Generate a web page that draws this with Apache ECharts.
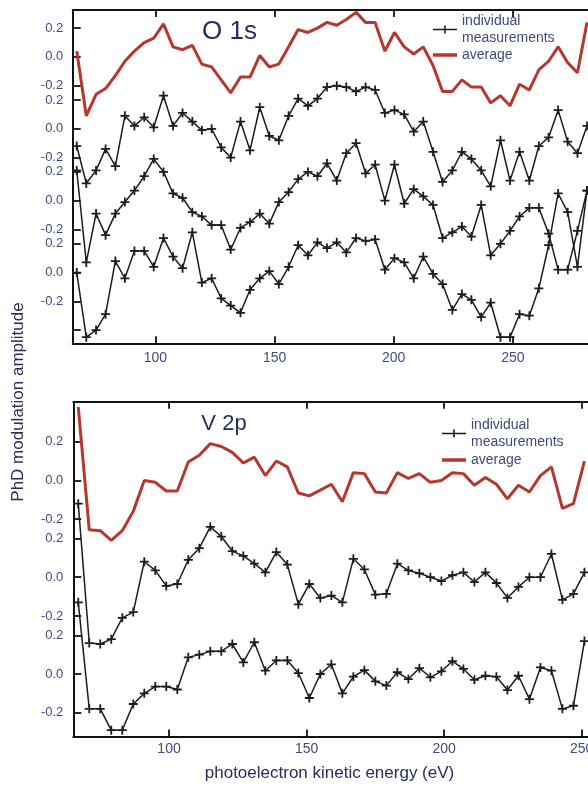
<!DOCTYPE html>
<html>
<head>
<meta charset="utf-8">
<script src="https://cdn.jsdelivr.net/npm/echarts@6/dist/echarts.min.js"></script>
<style>
html,body{margin:0;padding:0;background:#ffffff;}
#chart{width:588px;height:788px;}
</style>
</head>
<body>
<div id="chart"></div>
<script>
// ---------------- data ----------------
const o1sEnergy = [67.0, 71.0, 75.1, 79.1, 83.2, 87.2, 91.2, 95.3, 99.3, 103.4,
  107.4, 111.4, 115.5, 119.5, 123.6, 127.6, 131.6, 135.7, 139.7, 143.8,
  147.8, 151.8, 155.9, 159.9, 164.0, 168.0, 172.0, 176.1, 180.1, 184.2,
  188.2, 192.2, 196.3, 200.3, 204.4, 208.4, 212.4, 216.5, 220.5, 224.6,
  228.6, 232.6, 236.7, 240.7, 244.8, 248.8, 252.8, 256.9, 260.9, 265.0,
  269.0, 273.0, 277.1, 281.1];
const o1sAverage = [0.04, -0.41, -0.26, -0.22, -0.13, -0.03, 0.04, 0.10, 0.13, 0.23,
  0.07, 0.05, 0.08, -0.05, -0.07, -0.16, -0.25, -0.14, -0.14, 0.01,
  -0.07, -0.05, 0.07, 0.19, 0.17, 0.20, 0.24, 0.22, 0.26, 0.31,
  0.24, 0.24, 0.04, 0.17, 0.07, 0.02, 0.07, -0.06, -0.24, -0.24,
  -0.16, -0.21, -0.21, -0.32, -0.27, -0.34, -0.19, -0.23, -0.09, -0.03,
  0.07, -0.04, -0.11, 0.24];
const o1sScanA = [-0.12, -0.38, -0.29, -0.14, -0.26, 0.09, 0.02, 0.08, 0.01, 0.23,
  0.02, 0.11, 0.05, -0.01, 0.00, -0.13, -0.20, 0.05, -0.15, 0.15,
  -0.05, -0.08, 0.09, 0.21, 0.16, 0.21, 0.29, 0.30, 0.29, 0.26,
  0.29, 0.27, 0.11, 0.13, 0.10, -0.02, 0.05, -0.16, -0.37, -0.29,
  -0.16, -0.21, -0.29, -0.40, -0.08, -0.36, -0.16, -0.36, -0.12, -0.06,
  0.13, -0.09, -0.17, 0.02];
const o1sScanB = [0.21, -0.43, -0.09, -0.24, -0.09, -0.01, 0.07, 0.17, 0.29, 0.20,
  0.05, 0.02, -0.08, -0.11, -0.17, -0.17, -0.34, -0.19, -0.15, -0.09,
  -0.16, -0.01, 0.06, 0.15, 0.20, 0.17, 0.26, 0.14, 0.33, 0.40,
  0.19, 0.25, 0.00, 0.25, -0.02, 0.08, 0.03, -0.03, -0.26, -0.22,
  -0.18, -0.25, -0.03, -0.38, -0.30, -0.21, -0.11, -0.05, -0.05, -0.23,
  -0.48, -0.48, -0.21, 0.07];
const o1sScanC = [0.00, -0.45, -0.40, -0.29, 0.08, -0.04, 0.15, 0.15, 0.04, 0.24,
  0.11, 0.03, 0.28, -0.07, -0.04, -0.18, -0.23, -0.28, -0.12, -0.04,
  0.01, -0.08, 0.04, 0.19, 0.12, 0.21, 0.17, 0.21, 0.14, 0.24,
  0.22, 0.23, 0.02, 0.10, 0.07, -0.04, 0.11, -0.01, -0.08, -0.26,
  -0.15, -0.19, -0.31, -0.21, -0.45, -0.45, -0.29, -0.30, -0.11, 0.19,
  0.55, 0.42, 0.04, 0.57];

const v2pEnergy = [67, 71, 75, 79, 83, 87, 91, 95, 99, 103,
  107, 111, 115, 119, 123, 127, 131, 135, 139, 143,
  147, 151, 155, 159, 163, 167, 171, 175, 179, 183,
  187, 191, 195, 199, 203, 207, 211, 215, 219, 223,
  227, 231, 235, 239, 243, 247, 251];
const v2pAverage = [0.38, -0.255, -0.26, -0.31, -0.26, -0.16, 0.00, -0.01, -0.055, -0.055,
  0.095, 0.13, 0.19, 0.175, 0.145, 0.09, 0.12, 0.025, 0.10, 0.07,
  -0.065, -0.08, -0.05, -0.02, -0.11, 0.04, 0.035, -0.06, -0.065, 0.04,
  0.01, 0.035, -0.01, 0.00, 0.04, 0.035, -0.025, 0.015, -0.02, -0.095,
  -0.025, -0.06, 0.025, 0.07, -0.145, -0.12, 0.10];
const v2pScanA = [0.38, -0.34, -0.345, -0.32, -0.21, -0.18, 0.08, 0.035, -0.045, -0.035,
  0.09, 0.15, 0.26, 0.21, 0.135, 0.11, 0.07, 0.025, 0.13, 0.065,
  -0.14, -0.035, -0.107, -0.095, -0.13, 0.095, 0.04, -0.09, -0.086, 0.07,
  0.035, 0.02, 0.00, -0.02, 0.01, 0.025, -0.025, 0.025, -0.03, -0.107,
  -0.05, 0.00, 0.00, 0.12, -0.117, -0.086, 0.025];
const v2pScanB = [0.37, -0.18, -0.18, -0.29, -0.29, -0.155, -0.10, -0.065, -0.065, -0.08,
  0.086, 0.10, 0.117, 0.117, 0.155, 0.06, 0.164, 0.017, 0.07, 0.07,
  0.005, -0.124, 0.0, 0.05, -0.10, -0.014, 0.02, -0.038, -0.06, 0.009,
  -0.026, 0.03, -0.017, 0.014, 0.066, 0.026, -0.03, -0.009, -0.014, -0.083,
  -0.009, -0.13, 0.034, 0.017, -0.18, -0.164, 0.17];

const xTickValues = [100, 150, 200, 250];
const yTickValues = [0.2, 0.0, -0.2];
const yTickValuesLowest = [0.2, 0.0, -0.2, -0.4];
const nameAverage = 'average';
const nameIndividual = 'individual\nmeasurements';

// ---------------- styling / layout ----------------
const FONT = '"Liberation Sans", Arial, Helvetica, sans-serif';
const AXIS = '#121212';
const LABEL = '#404a80';
const TITLE = '#262d5c';
const RED = '#b5372f';
const INK = '#1c1c1c';
const PLUS = 'path://M4,0H6V4H10V6H6V10H4V6H0V4H4Z';

const panels = [
  { energy: o1sEnergy, traces: [o1sAverage, o1sScanA, o1sScanB, o1sScanC],
    grid: { left: 72.7, top: 10, width: 535.5, height: 333.3 },
    xMin: 65.3, xMax: 290, yMin: -1.9923, yMax: 0.3263, step: 0.5 },
  { energy: v2pEnergy, traces: [v2pAverage, v2pScanA, v2pScanB],
    grid: { left: 73.3, top: 401.7, width: 535.9, height: 334.8 },
    xMin: 65.2, xMax: 260, yMin: -1.3228, yMax: 0.4065, step: 0.5 }
];

const grids = [], xAxes = [], yAxes = [], series = [];
panels.forEach((p, pi) => {
  grids.push(Object.assign({ containLabel: false, outerBoundsMode: 'none' }, p.grid));
  const xBase = {
    gridIndex: pi, type: 'value', min: p.xMin, max: p.xMax,
    splitLine: { show: false },
    axisLine: { show: true, onZero: false, lineStyle: { color: AXIS, width: 2 } },
    axisTick: { show: true, inside: true, length: 7, customValues: xTickValues,
      lineStyle: { color: AXIS, width: 1.8 } }
  };
  xAxes.push(Object.assign({}, xBase, {
    position: 'bottom',
    axisLabel: { show: true, customValues: xTickValues, margin: pi === 0 ? 8 : 6,
      fontSize: 14, fontFamily: FONT, color: LABEL }
  }));
  xAxes.push(Object.assign({}, xBase, { position: 'top', axisLabel: { show: false } }));
  const xIndex = pi * 2;
  p.traces.forEach((vals, k) => {
    const isLast = (pi === 0 && k === p.traces.length - 1);
    const yIndex = yAxes.length;
    yAxes.push({
      gridIndex: pi, type: 'value', position: 'left',
      min: p.yMin + p.step * k, max: p.yMax + p.step * k,
      splitLine: { show: false },
      axisLine: { show: k === 0, onZero: false, lineStyle: { color: AXIS, width: 2 } },
      axisTick: { show: true, inside: true, length: 8,
        customValues: isLast ? yTickValuesLowest : yTickValues,
        lineStyle: { color: AXIS, width: 1.8 } },
      axisLabel: { show: true, customValues: yTickValues, margin: pi === 0 ? 9.5 : 10,
        fontSize: 13, fontFamily: FONT, color: LABEL,
        formatter: v => (Math.abs(v) < 1e-9 ? 0 : v).toFixed(1) }
    });
    const avg = k === 0;
    series.push({
      type: 'line', name: avg ? nameAverage : nameIndividual,
      xAxisIndex: xIndex, yAxisIndex: yIndex,
      data: p.energy.map((e, i) => [e, vals[i]]),
      clip: false, silent: true, z: avg ? 3 : 2,
      symbol: avg ? 'none' : PLUS, symbolSize: 9, showSymbol: !avg,
      itemStyle: { color: avg ? RED : INK, borderWidth: 0 },
      lineStyle: { color: avg ? RED : INK, width: avg ? 3 : 1.5 }
    });
  });
});

const legendIconPlus = 'path://M0,3.3H24V4.7H0ZM11.2,0H12.8V8H11.2Z';
const legendIconLine = 'path://M0,0H24V3.5H0Z';
function legendAt(left, top, gap, lh) {
  return {
    left: left, top: top, orient: 'vertical', padding: 0, itemGap: gap,
    itemWidth: 24, itemHeight: 10, selectedMode: false,
    itemStyle: { borderWidth: 0 },
    textStyle: { fontSize: 14, lineHeight: lh, fontFamily: FONT, color: LABEL },
    data: [{ name: nameIndividual, icon: legendIconPlus },
           { name: nameAverage, icon: legendIconLine }]
  };
}

const option = {
  animation: false,
  backgroundColor: '#ffffff',
  grid: grids,
  xAxis: xAxes,
  yAxis: yAxes,
  legend: [legendAt(433, 13, 0.75, 16.5), legendAt(442, 416.5, 1, 17)],
  graphic: [
    { type: 'text', x: 229.5, y: 31.7, silent: true,
      style: { text: 'O 1s', font: '26px ' + FONT, fill: TITLE, align: 'center', verticalAlign: 'middle' } },
    { type: 'text', x: 224, y: 424, silent: true,
      style: { text: 'V 2p', font: '22px ' + FONT, fill: TITLE, align: 'center', verticalAlign: 'middle' } },
    { type: 'text', x: 18.3, y: 402, rotation: Math.PI / 2, silent: true,
      style: { text: 'PhD modulation amplitude', font: '17px ' + FONT, fill: TITLE, align: 'center', verticalAlign: 'middle' } },
    { type: 'text', x: 329.5, y: 773, silent: true,
      style: { text: 'photoelectron kinetic energy (eV)', font: '17px ' + FONT, fill: TITLE, align: 'center', verticalAlign: 'middle' } }
  ],
  series: series
};

const chart = echarts.init(document.getElementById('chart'), null, { renderer: 'canvas' });
chart.setOption(option);
</script>
</body>
</html>
